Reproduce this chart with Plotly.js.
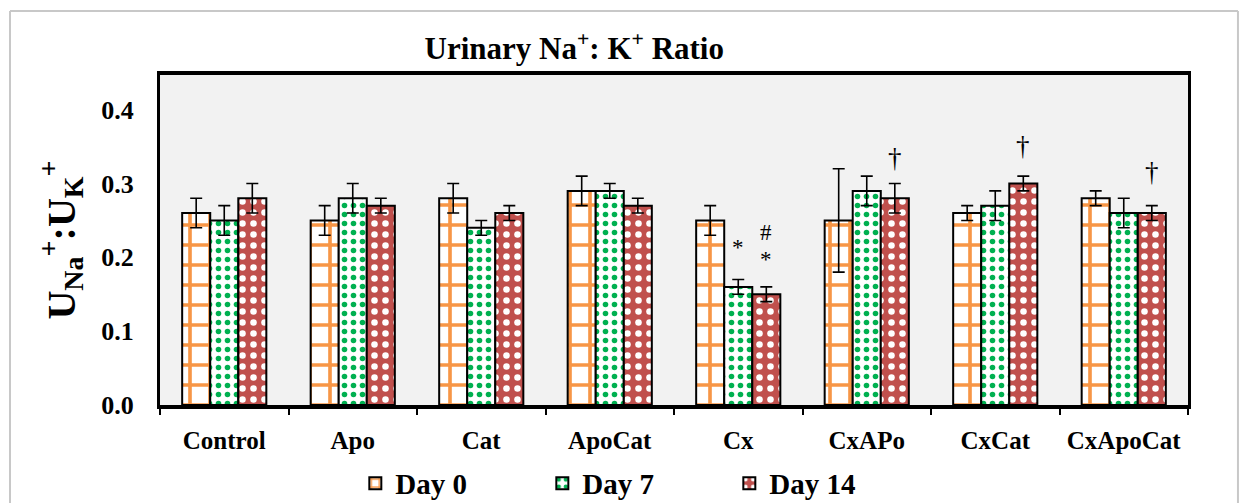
<!DOCTYPE html>
<html>
<head>
<meta charset="utf-8">
<script src="https://cdn.plot.ly/plotly-3.0.1.min.js"></script>
<style>html,body{margin:0;padding:0;background:#fff;}#chart{width:1243px;height:503px;}</style>
</head>
<body>
<div id="chart"></div>
<script>
const groups = ["Control", "Apo", "Cat", "ApoCat", "Cx", "CxAPo", "CxCat", "CxApoCat"];
const seriesNames = ["Day 0", "Day 7", "Day 14"];
const day0 = [0.26, 0.25, 0.28, 0.29, 0.25, 0.25, 0.26, 0.28];
const day0Err = [0.02, 0.02, 0.02, 0.02, 0.02, 0.07, 0.01, 0.01];
const day7 = [0.25, 0.28, 0.24, 0.29, 0.16, 0.29, 0.27, 0.26];
const day7Err = [0.02, 0.02, 0.01, 0.01, 0.01, 0.02, 0.02, 0.02];
const day14 = [0.28, 0.27, 0.26, 0.27, 0.15, 0.28, 0.30, 0.26];
const day14Err = [0.02, 0.01, 0.01, 0.01, 0.01, 0.02, 0.01, 0.01];
const yTicks = [0.0, 0.1, 0.2, 0.3, 0.4];
// significance marks: [group, series index, label, y]
const marks = [
  ["Cx", 1, "*", 0.213],
  ["Cx", 2, "#", 0.233],
  ["Cx", 2, "*", 0.197],
  ["CxAPo", 2, "†", 0.335],
  ["CxCat", 2, "†", 0.351],
  ["CxApoCat", 2, "†", 0.316]
];

const FONT = "Liberation Serif, Times New Roman, serif";
const errStyle = {type: "data", visible: true, color: "#000", thickness: 1.6, width: 6};
const lineStyle = {color: "#000", width: 2};

const traces = [
  {type: "bar", name: seriesNames[0], x: groups, y: day0,
   error_y: Object.assign({array: day0Err}, errStyle),
   marker: {color: "#ffffff", line: lineStyle,
     pattern: {shape: "+", fgcolor: "#f79646", bgcolor: "#ffffff", size: 20, solidity: 0.33, fillmode: "replace", fgopacity: 1}}},
  {type: "bar", name: seriesNames[1], x: groups, y: day7,
   error_y: Object.assign({array: day7Err}, errStyle),
   marker: {color: "#ffffff", line: lineStyle,
     pattern: {shape: ".", fgcolor: "#00b050", bgcolor: "#ffffff", size: 9, solidity: 0.3, fillmode: "replace", fgopacity: 1}}},
  {type: "bar", name: seriesNames[2], x: groups, y: day14,
   error_y: Object.assign({array: day14Err}, errStyle),
   marker: {color: "#c0504d", line: lineStyle,
     pattern: {shape: ".", fgcolor: "#ffffff", bgcolor: "#c0504d", size: 11, solidity: 0.28, fillmode: "replace", fgopacity: 1}}}
];

const offsets = [-28, 0, 28];
const annotations = marks.map(m => ({
  x: m[0], y: m[3], xref: "x", yref: "y", text: m[2], showarrow: false,
  xshift: offsets[m[1]], font: {family: FONT, size: m[2] === "†" ? 27 : 23, color: "#000"},
  xanchor: "center", yanchor: "middle"
}));

const layout = {
  width: 1243, height: 503,
  margin: {l: 160, r: 55, t: 75, b: 98, autoexpand: false},
  paper_bgcolor: "#ffffff",
  plot_bgcolor: "#f2f2f2",
  barmode: "group",
  bargap: 0.345,
  bargroupgap: 0,
  font: {family: FONT, color: "#000"},
  title: {text: "Urinary Na<sup>+</sup>: K<sup>+</sup> Ratio", x: 0.462, xanchor: "center", xref: "container",
          y: 0.905, yanchor: "middle", yref: "container", font: {family: FONT, size: 31, color: "#000", weight: "bold"}},
  xaxis: {
    type: "category", showgrid: false, zeroline: false,
    showline: true, linecolor: "#000", linewidth: 4, mirror: true,
    ticks: "outside", tickson: "boundaries", ticklen: 6, tickwidth: 2, tickcolor: "#000",
    ticklabelstandoff: 10, tickangle: 0,
    tickfont: {family: FONT, size: 25, color: "#000", weight: "bold"}
  },
  yaxis: {
    range: [0, 0.447], tickvals: yTicks, ticktext: yTicks.map(v => v.toFixed(1)),
    showgrid: false, zeroline: false,
    showline: true, linecolor: "#000", linewidth: 3, mirror: true,
    ticks: "", ticklen: 0, ticklabelstandoff: 18,
    tickfont: {family: FONT, size: 26, color: "#000", weight: "bold"},
    title: {text: "U<sub>Na</sub><sup>+</sup>:U<sub>K</sub><sup>+</sup>", font: {family: FONT, size: 40, color: "#000", weight: "bold"}, standoff: 14}
  },
  showlegend: true,
  legend: {orientation: "h", x: 0.19, xanchor: "left", y: -0.16, yanchor: "top",
           entrywidth: 142, entrywidthmode: "pixels",
           font: {family: FONT, size: 29, color: "#000", weight: "bold"},
           bgcolor: "rgba(0,0,0,0)", itemwidth: 30},
  annotations: annotations,
  shapes: [
    {type: "line", xref: "paper", yref: "paper", x0: -0.1459, x1: -0.1459, y0: 1.194, y1: -0.4, line: {color: "#c8c8c8", width: 2}},
    {type: "line", xref: "paper", yref: "paper", x0: 1.0486, x1: 1.0486, y0: 1.194, y1: -0.4, line: {color: "#c8c8c8", width: 2}},
    {type: "line", xref: "paper", yref: "paper", x0: -0.1459, x1: 1.0486, y0: 1.194, y1: 1.194, line: {color: "#c8c8c8", width: 2}}
  ]
};

Plotly.newPlot("chart", traces, layout, {staticPlot: true, displayModeBar: false});
</script>
</body>
</html>
